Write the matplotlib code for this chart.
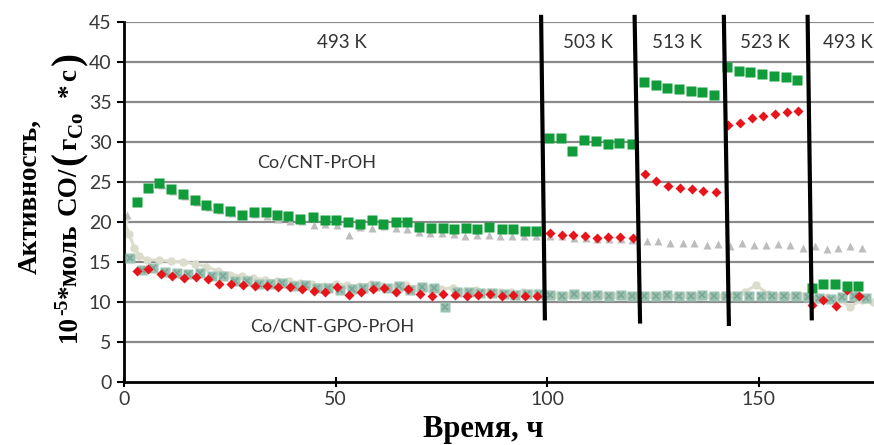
import numpy as np
import matplotlib
matplotlib.use("Agg")
import matplotlib.pyplot as plt

# Co/CNT-PrOH, green squares (time h, activity)
green_t = [3.0, 5.6, 8.3, 11.1, 14.0, 16.8, 19.5, 22.3, 25.1, 27.8, 30.7, 33.5,
           36.2, 38.8, 41.7, 44.6, 47.5, 50.1, 53.0, 55.8, 58.6, 61.3, 64.2, 67.0,
           69.8, 72.5, 75.3, 78.1, 80.8, 83.5, 86.4, 89.3, 91.9, 94.8, 97.5,
           100.5, 103.2, 106.0, 108.7, 111.6, 114.3, 117.1, 120.0,
           122.9, 125.7, 128.3, 131.2, 134.0, 136.7, 139.5,
           142.6, 145.4, 148.1, 150.9, 153.7, 156.4, 159.2,
           162.6, 165.3, 168.1, 170.8, 173.6]
green_v = [22.5, 24.2, 24.9, 24.1, 23.5, 22.75, 22.1, 21.7, 21.4, 20.9, 21.2, 21.2,
           20.9, 20.7, 20.4, 20.6, 20.3, 20.25, 20.0, 19.8, 20.3, 19.8, 20.0, 20.0,
           19.4, 19.2, 19.2, 19.1, 19.3, 19.1, 19.4, 19.1, 19.1, 18.9, 18.9,
           30.5, 30.45, 28.9, 30.3, 30.1, 29.8, 29.9, 29.8,
           37.5, 37.1, 36.8, 36.6, 36.4, 36.3, 35.9,
           39.4, 38.9, 38.7, 38.5, 38.25, 38.1, 37.8,
           11.7, 12.3, 12.3, 12.0, 12.0]

# red diamonds
red_t = [3.0, 5.7, 8.7, 11.4, 14.3, 17.0, 19.8, 22.5, 25.3, 28.1, 30.9, 33.7,
         36.5, 39.2, 42.0, 44.8, 47.5, 50.3, 53.2, 56.0, 58.8, 61.5, 64.3, 67.1,
         69.9, 72.7, 75.5, 78.3, 81.0, 83.8, 86.5, 89.3, 92.0, 94.9, 97.7,
         100.7, 103.5, 106.2, 109.0, 111.8, 114.5, 117.3, 120.3,
         123.2, 125.8, 128.5, 131.4, 134.2, 136.9, 139.9,
         142.8, 145.6, 148.4, 151.1, 153.9, 156.7, 159.4,
         162.6, 165.3, 168.2, 170.9, 173.7]
red_v = [13.9, 14.1, 13.5, 13.2, 13.0, 13.1, 12.9, 12.3, 12.2, 12.1, 12.0, 12.0,
         11.9, 11.9, 11.6, 11.4, 11.2, 11.9, 10.9, 11.3, 11.6, 11.7, 11.3, 11.6,
         10.95, 10.75, 10.95, 10.9, 10.8, 10.9, 11.0, 10.7, 10.9, 10.7, 10.7,
         18.6, 18.4, 18.4, 18.2, 18.05, 18.1, 18.1, 18.0,
         26.0, 25.1, 24.5, 24.2, 24.1, 23.9, 23.8,
         32.1, 32.4, 33.0, 33.3, 33.5, 33.7, 33.9,
         9.6, 10.2, 9.5, 11.5, 10.75]

# light grey triangles
tri_t = [0.6, 3.4, 6.1, 8.9, 11.7, 14.4, 17.2, 20.0, 22.7, 25.5, 28.2, 31.0,
         33.8, 36.5, 39.3, 42.1, 44.8, 47.6, 50.4, 53.1, 55.9, 58.6, 61.4, 64.2,
         66.9, 69.7, 72.4, 75.2, 78.0, 80.7, 83.5, 86.2, 89.0, 91.8, 94.5, 97.3,
         100.8, 103.6, 106.4, 109.1, 111.9, 114.6, 117.4, 120.2,
         123.6, 126.3, 129.1, 132.1, 134.8, 137.8, 140.5, 143.3, 146.0, 149.0,
         151.7, 154.5, 157.5, 160.5, 163.4, 166.1, 168.9, 171.7, 174.4]
tri_v = [20.9, 22.8, 24.3, 24.6, 23.9, 23.2, 22.5, 21.9, 21.5, 21.1, 20.9, 21.0,
         20.8, 20.4, 20.1, 20.1, 19.6, 19.7, 19.6, 18.4, 19.4, 19.2, 19.5, 19.2,
         19.1, 18.8, 18.6, 18.6, 18.5, 18.3, 18.4, 18.4, 18.3, 18.2, 18.2, 18.3,
         18.3, 18.2, 18.0, 18.0, 17.9, 17.9, 17.9, 17.8,
         17.6, 17.6, 17.4, 17.4, 17.4, 17.1, 17.2, 17.0, 17.4, 17.1,
         17.1, 17.2, 17.1, 16.8, 17.0, 16.6, 16.8, 17.0, 16.8]

# Co/CNT-GPO-PrOH, grey-green squares
gpo_t = [1.4, 4.2, 6.9, 9.7, 12.5, 15.2, 18.0, 20.7, 23.5, 26.3, 29.0, 31.8,
         34.5, 37.3, 40.1, 42.8, 45.6, 48.3, 51.1, 53.9, 56.6, 59.4, 62.2, 64.9,
         67.7, 70.4, 73.2, 76.0, 78.7, 81.5, 84.2, 87.0, 89.8, 92.5, 95.3,
         98.1, 100.8, 103.6, 106.4, 109.1, 111.9, 114.6, 117.4, 120.2, 122.9,
         125.7, 128.4, 131.2, 134.0, 136.7, 139.5, 142.2, 145.0, 147.8, 150.5,
         153.3, 156.0, 158.8, 161.6, 164.3, 167.1, 169.8, 172.6, 175.4]
gpo_v = [15.5, 14.0, 14.3, 13.7, 13.6, 13.5, 13.6, 13.2, 13.2, 12.6, 12.6, 12.3,
         12.3, 12.4, 12.0, 12.1, 11.7, 11.7, 11.5, 11.6, 11.7, 12.0, 11.8, 12.0,
         11.5, 11.9, 11.7, 9.4, 11.2, 11.3, 11.1, 11.1, 11.0, 10.9, 11.0,
         11.0, 10.9, 10.8, 11.0, 10.8, 10.9, 10.8, 10.9, 10.8, 10.7,
         10.8, 10.9, 10.7, 10.8, 10.9, 10.7, 10.8, 10.7, 10.8, 10.8,
         10.7, 10.8, 10.7, 10.6, 10.5, 10.4, 10.6, 10.8, 10.5]

# pale line with circles
pale_t = [0.0, 1.2, 2.4, 3.6, 5.5, 8.3, 11.1, 13.9, 16.7, 19.4, 22.2, 25.0,
          27.8, 30.5, 33.3, 36.1, 38.9, 41.6, 44.4, 47.2, 50.0, 52.7, 55.5, 58.3,
          61.1, 63.8, 66.6, 69.4, 72.2, 74.9, 77.7, 80.5, 83.3, 86.0, 88.8, 91.6,
          94.4, 97.1, 99.9, 102.7, 105.5, 108.2, 111.0, 113.8, 116.6, 119.3,
          122.1, 124.9, 127.7, 130.4, 133.2, 136.0, 138.8, 141.5, 144.3, 146.8,
          149.5, 152.3, 155.0, 157.8, 160.6, 163.4, 166.1, 168.9, 171.7, 174.4, 177.0]
pale_v = [20.2, 18.5, 16.8, 15.8, 15.3, 15.2, 15.1, 15.0, 14.8, 14.4, 13.9, 13.4,
          13.3, 13.0, 12.8, 12.6, 12.6, 12.4, 12.3, 12.0, 12.3, 12.1, 12.0, 12.3,
          12.0, 11.9, 12.1, 11.8, 11.7, 11.6, 11.8, 11.4, 11.5, 11.3, 11.3, 11.2,
          11.3, 11.1, 11.0, 10.9, 10.9, 10.9, 10.8, 10.9, 10.9, 10.8,
          10.8, 10.9, 10.8, 10.8, 10.9, 10.8, 10.8, 10.8, 10.9, 11.3,
          12.1, 11.0, 10.8, 10.8, 10.7, 10.4, 10.6, 10.3, 9.4, 10.3, 10.0]

# temperature switches: (bottom x, top x, bottom y)
switch_x0 = [99.5, 122.0, 143.0, 162.6]
switch_x1 = [98.6, 120.7, 141.8, 161.6]
switch_y0 = [7.7, 7.3, 7.0, 7.7]

temp_labels = ["493 K", "503 K", "513 K", "523 K", "493 K"]
temp_x = [51.5, 109.6, 130.8, 151.5, 171.1]

# second y-label line: (text, size, baseline shift px, gap after px)
ylab_pieces = [("10", 19.5, 0, 0), ("-5", 14, -9, 1), ("*моль", 19.5, 0, 8),
               ("CO/", 19.5, 0, 2), ("(", 28, 3, 2), ("г", 19.5, 0, 1),
               ("Co", 15, 6, 14), ("*", 19.5, 0, 3), ("с", 19.5, 0, 4),
               (")", 28, 3, 0)]

W, H = 874, 445
fig = plt.figure(figsize=(W / 100, H / 100), dpi=100)
ax = fig.add_axes([124 / W, 63 / H, 750 / W, 360 / H])

ax.set_xlim(0, 177.3)
ax.set_ylim(0, 45)
ax.set_yticks(range(0, 50, 5))
ax.set_xticks([0, 50, 100, 150])
for v in range(5, 50, 5):
    ax.axhline(v, color='#8a8a8a', lw=1.6, zorder=0)

ax.plot(pale_t, pale_v, '-o', color='#dcdccc', lw=2.2, ms=5, zorder=1)
ax.plot(tri_t, tri_v, '^', color='#bdbdbd', ms=6, mec='none', zorder=2)
ax.plot(gpo_t, gpo_v, 's', color='#9cc2b3', ms=6.5, mec='none', zorder=3)
ax.plot(gpo_t, gpo_v, 'x', color='#7aa696', ms=4.5, mew=1.2, zorder=3)
ax.plot(red_t, red_v, 'D', color='#e8141c', ms=4.8, mec='none', zorder=4)
ax.plot(green_t, green_v, 's', color='#109c3a', ms=7.2, mec='none', zorder=5)

for xb, xt, yb in zip(switch_x0, switch_x1, switch_y0):
    ax.plot([xb, xt], [yb, 45.9], color='black', lw=3, solid_capstyle='butt',
            clip_on=False, zorder=6)

for lab, xp in zip(temp_labels, temp_x):
    ax.text(xp, 42.4, lab, ha='center', va='center', fontsize=13.5,
            family='Lato', color='#333333')

ax.text(45.5, 27.4, "Co/CNT-PrOH", ha='center', va='center', fontsize=13,
        family='Lato', color='#333333')
ax.text(49.1, 6.9, "Co/CNT-GPO-PrOH", ha='center', va='center', fontsize=13,
        family='Lato', color='#333333')

for side in ['top', 'right']:
    ax.spines[side].set_visible(False)
ax.spines['left'].set_linewidth(2)
ax.spines['bottom'].set_linewidth(2)
ax.tick_params(axis='y', direction='out', length=5, width=1.5, labelsize=14,
               labelcolor='#383838', pad=4)
ax.tick_params(axis='x', direction='inout', length=7, width=1.5, labelsize=14,
               labelcolor='#383838', pad=3)
for lbl in ax.get_xticklabels() + ax.get_yticklabels():
    lbl.set_family('Lato')

serif = dict(family='Liberation Serif', weight='bold')
fig.text(483 / W, 0.035, "Время, ч", ha='center', va='center', fontsize=22, **serif)

# first line, rotated, baseline at x=36 px
fig.text(36 / W, (H - 197) / H, "Активность,", rotation=90, rotation_mode='anchor',
         ha='center', va='baseline', fontsize=19.5, **serif)

# second line built piece by piece so super/subscripts sit right
r = fig.canvas.get_renderer()
widths = []
for s, size, dx, gap in ylab_pieces:
    t = fig.text(0, 0, s, fontsize=size, **serif)
    widths.append(t.get_window_extent(r).width)
    t.remove()
total = sum(widths) + sum(p[3] for p in ylab_pieces)
y = (H - 197) - total / 2
base_x = 76
for (s, size, dx, gap), w in zip(ylab_pieces, widths):
    fig.text((base_x + dx) / W, y / H, s, rotation=90, rotation_mode='anchor',
             ha='left', va='baseline', fontsize=size, **serif)
    y += w + gap

fig.savefig("out.png", dpi=100)
